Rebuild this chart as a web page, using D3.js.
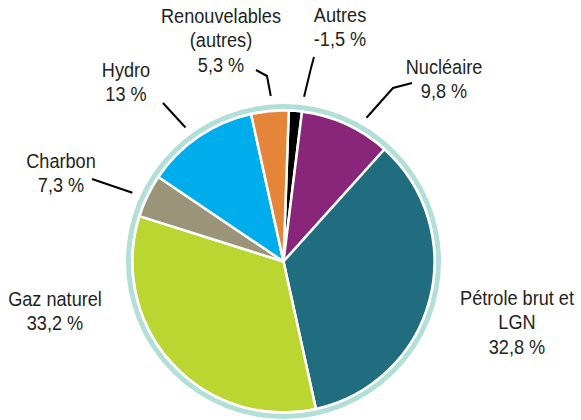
<!DOCTYPE html>
<meta charset="utf-8">
<html>
  <head>
    <title>Pie</title>
    <script src="https://d3js.org/d3.v7.min.js"></script>
    <style type="text/css">
      body{ margin:0; background:#fff; }
      .lbl{ font-family:"Liberation Sans", Arial, sans-serif; font-size:20.5px; fill:#231f20; }
      .leader{ fill:none; stroke:#000; stroke-width:2; }
    </style>
  </head>
  <body>
    <div id="plot"></div>
  </body>

  <script>
    // categories, clockwise from the top
    var categories = ["Autres", "Nucléaire", "Pétrole brut et LGN", "Gaz naturel", "Charbon", "Hydro", "Renouvelables (autres)"];
    // slice sizes as drawn (%)
    var shares = [1.4, 9.7, 34.9, 33.3, 4.6, 12.1, 4.0];
    // printed values
    var valueLabels = ["-1,5 %", "9,8 %", "32,8 %", "33,2 %", "7,3 %", "13 %", "5,3 %"];
    var colors = ["#000000", "#8a2679", "#216d80", "#bbd531", "#9c9478", "#00adec", "#e5853a"];

    var width = 581, height = 420;
    var cx = 283.5, cy = 261.5, r = 151;

    // label placement: text lines, anchor point, leader (angle offset + extra points)
    var layout = {
      "Autres": {lines:["Autres", "-1,5 %"], x:340, y:22, dA:2.6, pts:[[311,68],[314,57]]},
      "Nucléaire": {lines:["Nucléaire", "9,8 %"], x:444, y:74, dA:5.5, pts:[[393,88],[412,83]]},
      "Pétrole brut et LGN": {lines:["Pétrole brut et", "LGN", "32,8 %"], x:517, y:305, dA:0, pts:null},
      "Gaz naturel": {lines:["Gaz naturel", "33,2 %"], x:55, y:306, dA:0, pts:null},
      "Charbon": {lines:["Charbon", "7,3 %"], x:61, y:168, dA:-1.3, pts:[[92,179]]},
      "Hydro": {lines:["Hydro", "13 %"], x:126, y:77, dA:-2, pts:[[163,103]]},
      "Renouvelables (autres)": {lines:["Renouvelables", "(autres)", "5,3 %"], x:221, y:23, dA:0.8, pts:[[267,76],[256,70]]}
    };

    var data = categories.map(function(c, i){
      return {name:c, value:shares[i], label:valueLabels[i], color:colors[i]};
    });

    var svg = d3.select("#plot").append("svg")
        .attr("width", width)
        .attr("height", height);

    var g = svg.append("g")
        .attr("transform", "translate(" + cx + "," + cy + ")");

    // outer ring
    g.append("circle")
       .attr("r", r + 4)
       .style("fill", "#fff")
       .style("stroke", "#b2dfd8")
       .style("stroke-width", 5);

    var start = 2 * Math.PI / 180;
    var pie = d3.pie()
        .sort(null)
        .value(function(d){ return d.value; })
        .startAngle(start)
        .endAngle(start + 2 * Math.PI);

    var arc = d3.arc().innerRadius(0).outerRadius(r);
    var arcs = pie(data);

    g.selectAll(".slice")
       .data(arcs)
      .enter().append("path")
       .attr("class", "slice")
       .attr("d", arc)
       .style("fill", function(d){ return d.data.color; })
       .style("stroke", "#fff")
       .style("stroke-width", 2.5)
       .style("stroke-linejoin", "round");

    // leaders
    arcs.forEach(function(a){
      var L = layout[a.data.name];
      if (!L.pts) return;
      var ang = (a.startAngle + a.endAngle) / 2 + L.dA * Math.PI / 180;
      var p0 = [cx + 166 * Math.sin(ang), cy - 166 * Math.cos(ang)];
      svg.append("path")
         .attr("class", "leader")
         .attr("d", d3.line()([p0].concat(L.pts)));
    });

    // labels
    arcs.forEach(function(a){
      var L = layout[a.data.name];
      var t = svg.append("text")
         .attr("class", "lbl")
         .attr("text-anchor", "middle")
         .attr("transform", "translate(" + L.x + "," + L.y + ") scale(0.885,1)");
      L.lines.forEach(function(s, i){
        t.append("tspan")
         .attr("x", 0)
         .attr("y", i * 24.5)
         .text(s);
      });
    });
  </script>
</html>
